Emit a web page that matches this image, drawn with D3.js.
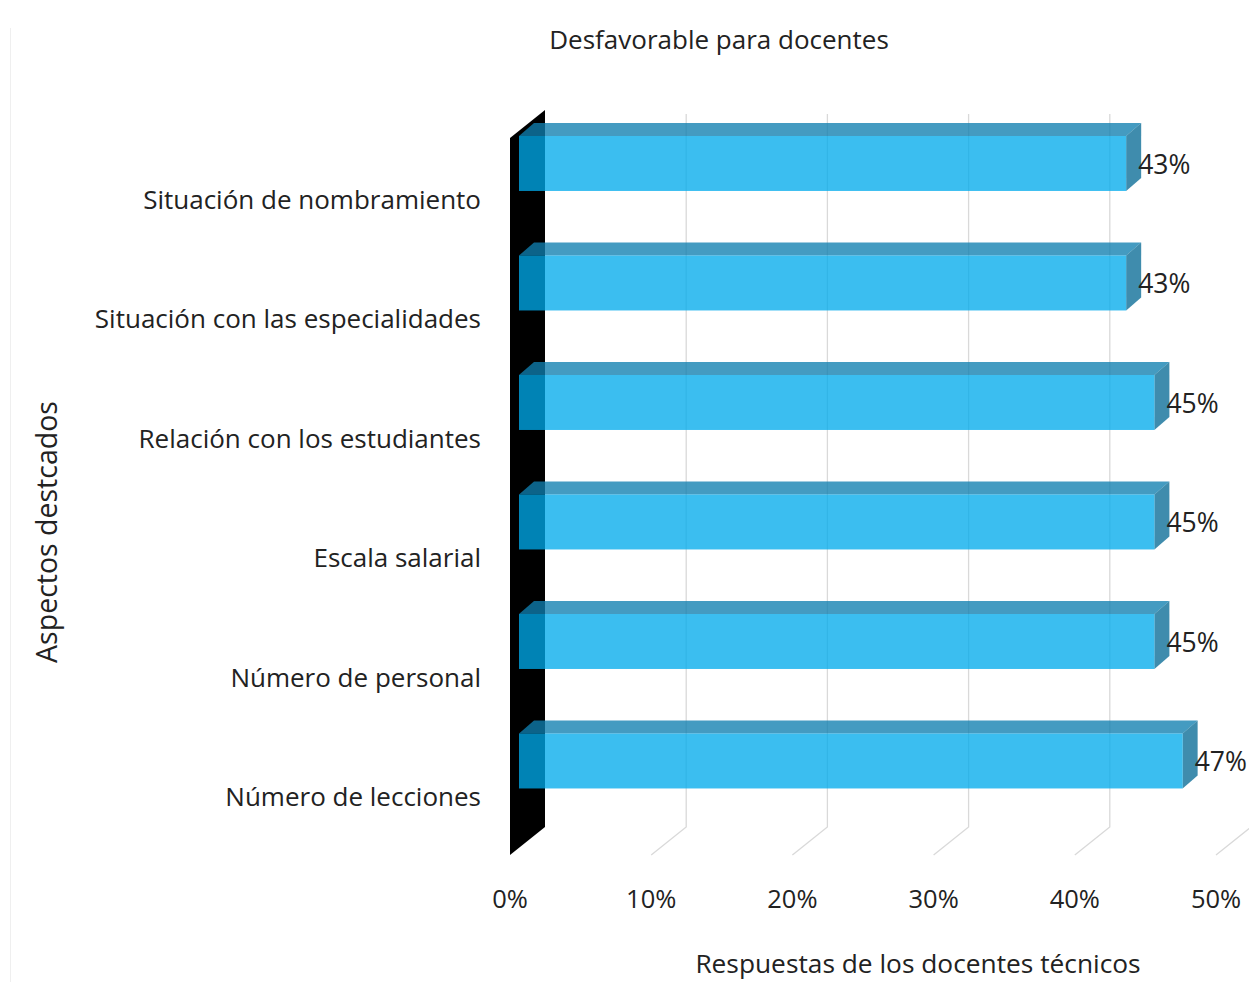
<!DOCTYPE html>
<html><head><meta charset="utf-8">
<script src="https://cdn.jsdelivr.net/npm/d3@7"></script>
<style>body{margin:0;background:#fff}svg{display:block}text{font-family:"Open Sans",sans-serif;fill:#222}</style>
</head><body>
<script>
const categories = ["Situación de nombramiento","Situación con las especialidades","Relación con los estudiantes","Escala salarial","Número de personal","Número de lecciones"];
const values = [0.43,0.43,0.45,0.45,0.45,0.47];
const valueLabels = ["43%","43%","45%","45%","45%","47%"];
const tickValues = [0,0.1,0.2,0.3,0.4,0.5];
const title = "Desfavorable para docentes";
const xTitle = "Respuestas de los docentes técnicos";
const yTitle = "Aspectos destcados";

const W=1249,H=982;
const svg=d3.select("body").append("svg").attr("width",W).attr("height",H);

// front plane scales
const x=d3.scaleLinear().domain([0,0.5]).range([510,1216]);
const y=d3.scaleBand().domain(categories).range([138,855]);
// depth offsets
const depth={dx:35,dy:-28};
const barFront={dx:9,dy:0}, barBack={dx:24,dy:-13};

// outer faint border
svg.append("line").attr("x1",10.5).attr("x2",10.5).attr("y1",28).attr("y2",H).attr("stroke","#efefef");

// gridlines: back vertical + floor diagonal
const g=svg.append("g").attr("stroke","#d9d9d9").attr("stroke-width",1.3).attr("fill","none");
tickValues.slice(1).forEach(t=>{
  const xf=x(t), xb=x(t)+depth.dx;
  g.append("path").attr("d",`M${xb},${142+depth.dy}L${xb},${855+depth.dy}L${xf},855`);
});

// black side wall
svg.append("path").attr("fill","#000")
  .attr("d",`M${x(0)},${y.range()[0]}L${x(0)+depth.dx},${y.range()[0]+depth.dy}L${x(0)+depth.dx},${y.range()[1]+depth.dy}L${x(0)},${y.range()[1]}Z`);

// bars
const bh=y.bandwidth()*0.46;
const bars=svg.append("g");
categories.forEach((c,i)=>{
  const y0=y(c)-2, y1=y0+bh;
  const xl=x(0)+barFront.dx, xr=x(values[i])+barFront.dx;
  const ddx=barBack.dx-barFront.dx, ddy=barBack.dy;
  // top face
  bars.append("path").attr("fill","#0f7fb0").attr("fill-opacity",0.78)
    .attr("d",`M${xl},${y0}L${xl+ddx},${y0+ddy}L${xr+ddx},${y0+ddy}L${xr},${y0}Z`);
  // right face
  bars.append("path").attr("fill","#0f6f98").attr("fill-opacity",0.8)
    .attr("d",`M${xr},${y0}L${xr+ddx},${y0+ddy}L${xr+ddx},${y1+ddy}L${xr},${y1}Z`);
  // front face
  bars.append("rect").attr("x",xl).attr("y",y0).attr("width",xr-xl).attr("height",bh)
    .attr("fill","#00aaeb").attr("fill-opacity",0.77);
  // value label
  svg.append("text").attr("x",xr+ddx-3).attr("y",y0+bh/2+1).attr("dy","0.35em")
    .attr("font-size",26.5).text(valueLabels[i]);
});

// category labels
categories.forEach(c=>{
  svg.append("text").attr("x",481).attr("y",y(c)+y.bandwidth()/2+2).attr("dy","0.35em")
    .attr("text-anchor","end").attr("font-size",26).text(c);
});

// x tick labels
tickValues.forEach(t=>{
  svg.append("text").attr("x",x(t)).attr("y",899).attr("dy","0.35em")
    .attr("text-anchor","middle").attr("font-size",25.5).text(d3.format(".0%")(t));
});

svg.append("text").attr("x",719).attr("y",40).attr("dy","0.35em").attr("text-anchor","middle").attr("font-size",26).text(title);
svg.append("text").attr("x",918).attr("y",964).attr("dy","0.35em").attr("text-anchor","middle").attr("font-size",26.3).text(xTitle);
svg.append("text").attr("transform","translate(47,532) rotate(-90)").attr("dy","0.35em").attr("text-anchor","middle").attr("font-size",28.5).text(yTitle);
</script>
</body></html>
